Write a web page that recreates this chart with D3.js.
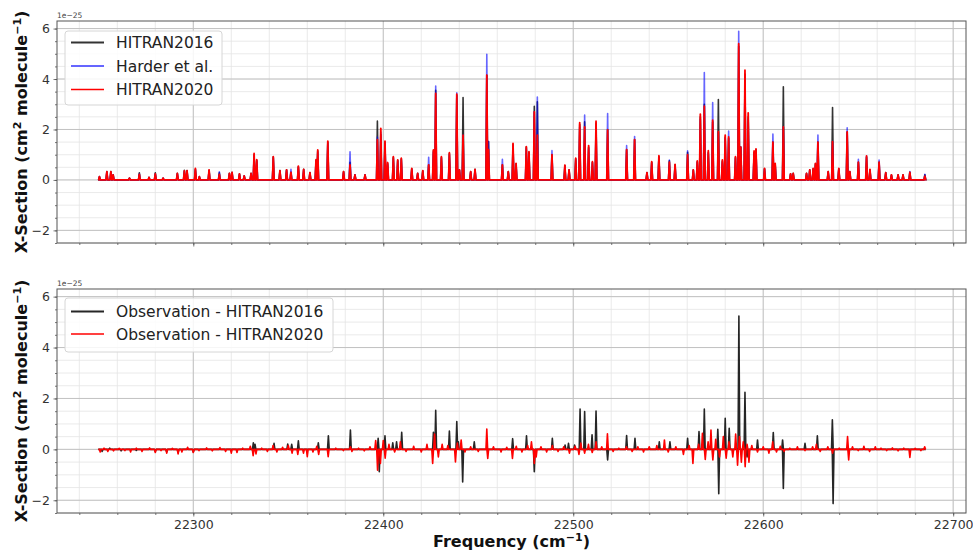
<!DOCTYPE html>
<html><head><meta charset="utf-8">
<script src="https://cdn.jsdelivr.net/npm/d3@7"></script>
<style>
body{margin:0;background:#fff}
svg{display:block;font-family:"DejaVu Sans",sans-serif}
</style>
</head><body><svg id="c" width="973" height="551"></svg>
<script>
// ---------------- data (cross-sections in units of 1e-25 cm^2 molecule^-1) ----------------
const freqRange = [22250, 22685.5];
const xTicks = [22300, 22400, 22500, 22600, 22700];
const yTicks = [-2, 0, 2, 4, 6];
const seriesTop = ["HITRAN2016", "Harder et al.", "HITRAN2020"];
const seriesBottom = ["Observation - HITRAN2016", "Observation - HITRAN2020"];

const peakFreq = [
22250.6,22254.5,22256.6,22257.8,22266.4,22271.6,22276.7,22280.0,22284.1,22291.6,
22295.3,22296.7,22301.1,22303.2,22308.3,22313.7,22319.0,22320.4,22324.3,22326.8,
22330.4,22332.0,22333.4,22342.1,22345.6,22349.1,22351.4,22355.3,22358.1,22361.4,
22364.6,22365.5,22370.8,22379.1,22382.5,22385.1,22390.4,22396.9,22398.7,22400.9,
22402.3,22405.3,22407.6,22409.5,22415.0,22418.1,22420.8,22423.9,22426.4,22427.6,
22430.6,22434.8,22438.7,22440.1,22442.0,22446.0,22448.3,22454.5,22455.4,22462.7,
22465.8,22468.3,22469.9,22475.3,22476.7,22479.5,22481.1,22488.8,22495.6,22497.8,
22501.3,22503.4,22506.0,22508.1,22510.1,22512.0,22518.1,22528.1,22532.3,22538.8,
22541.3,22545.1,22550.6,22553.6,22560.2,22563.2,22565.3,22566.9,22569.0,22571.1,
22573.4,22576.4,22578.5,22580.0,22581.8,22585.4,22587.1,22588.2,22590.4,22592.1,
22595.2,22596.2,22600.7,22605.1,22606.3,22610.6,22614.4,22615.8,22622.8,22624.5,
22626.3,22627.5,22628.8,22634.2,22636.5,22639.8,22644.2,22645.6,22650.1,22654.4,
22656.2,22661.0,22664.5,22667.5,22671.0,22673.6,22677.2,22685.1];

const hitran2016 = [
.13,.33,.33,.2,.07,.28,.1,.28,.07,.26,
.38,.37,.42,.13,.38,.28,.26,.30,.24,.16,
.26,1.0,.78,.92,.37,.40,.3,.52,.42,.29,
.78,1.15,1.5,.33,.7,.2,.2,2.33,1.8,1.5,
.65,.9,.78,.84,.44,.26,.36,.6,1.15,3.55,
.9,1.05,3.35,.4,3.27,.33,.42,4.15,1.52,.6,
.33,1.4,.64,1.3,1.1,2.92,3.1,1.0,.57,.4,
.84,2.2,2.3,1.3,.7,2.25,2.0,1.2,1.6,.29,
.7,.92,.76,.6,1.1,.4,.72,2.5,3.0,1.1,
2.3,3.19,.75,1.7,1.65,.9,5.3,1.3,4.2,2.5,
1.1,1.2,.44,1.5,.64,3.69,.24,.26,.26,.4,
.44,.64,1.5,.33,2.87,.44,1.9,.33,.7,.9,
.4,.7,.29,.2,.2,.2,.3,.2];

const harder = [
.13,.30,.30,.2,.07,.24,.1,.24,.07,.24,
.34,.35,.40,.13,.36,.32,.24,.28,.22,.16,
.24,.95,.75,.88,.35,.38,.42,.5,.4,.27,
.75,1.1,1.45,.3,1.12,.2,.2,1.7,1.9,1.45,
.6,.85,.75,.8,.42,.24,.34,.9,1.1,3.72,
.85,1.0,3.45,.38,1.78,.3,.4,4.98,1.52,.82,
.3,1.35,.6,1.25,1.05,2.7,3.29,1.16,.55,.38,
.8,2.1,2.57,1.25,.68,2.1,2.63,1.36,1.72,.27,
.68,.9,.79,.58,1.15,.38,.7,2.4,4.26,1.05,
3.07,1.9,.7,1.65,1.94,.85,5.89,1.3,4.0,2.4,
1.05,1.15,.42,1.82,.6,2.1,.22,.24,.24,.38,
.42,.6,1.78,.3,1.52,.42,2.07,.3,.82,.95,
.38,.79,.27,.18,.18,.18,.33,.22];

const hitran2020 = [
.13,.33,.33,.2,.07,.22,.1,.24,.07,.26,
.36,.37,.46,.13,.40,.22,.26,.30,.24,.16,
.26,1.05,.8,.92,.37,.4,.3,.55,.42,.29,
.8,1.19,1.54,.33,.6,.2,.2,1.6,2.04,1.54,
.69,.92,.79,.86,.46,.26,.37,.6,1.19,3.43,
.92,1.08,3.40,.4,1.78,.33,.42,4.15,1.2,.6,
.33,1.45,.66,1.32,1.12,2.7,1.78,1.0,.59,.4,
.86,2.27,2.1,1.36,.72,2.33,1.98,1.2,1.6,.29,
.72,.96,.7,.62,1.0,.4,.75,2.61,2.92,1.16,
2.37,1.91,.79,1.78,1.71,.92,5.4,1.3,4.35,2.66,
1.15,1.23,.46,1.5,.66,2.1,.24,.26,.26,.4,
.46,.66,1.5,.33,1.52,.46,1.9,.33,.7,.95,
.42,.7,.29,.2,.2,.2,.3,.15];

const residFreq2016 = [
22252,22256,22262,22270,22280,22286,22292,22300,22331.6,22332.5,
22342.5,22349.7,22351.8,22355.3,22365.8,22371.1,22382.7,22397.3,22397.9,22400.9,
22405,22407,22409.7,22426.4,22427.6,22434.8,22438.7,22439.5,22441.8,22447.9,
22468.1,22475.4,22479.5,22489,22495.7,22497.5,22500.7,22503.6,22506,22509.9,
22512,22518.1,22528.1,22532.5,22545.3,22550.9,22560.2,22566.2,22569,22576.1,
22576.6,22580,22582.1,22587.2,22590.4,22591.5,22597,22605.3,22610.2,22610.6,
22622,22628.5,22636.4,22636.8];
const resid2016 = [
-0.08,0.05,-0.06,-0.04,-0.08,-0.1,-0.12,-0.1,0.26,0.2,
0.24,0.21,0.2,0.34,0.26,0.53,0.76,0.43,-0.88,0.53,
0.26,0.3,0.67,0.67,1.53,0.72,1.09,0.3,-1.28,0.3,
0.42,0.53,-0.88,0.43,0.17,0.24,0.17,1.58,1.49,0.57,
1.51,-0.42,0.54,0.43,0.3,0.3,0.43,0.7,1.58,0.79,
-1.74,1.22,0.83,5.24,2.24,-0.3,0.37,0.66,0.37,-1.54,
0.24,0.53,1.16,-2.13];

const residFreq2020 = [
22251,22253,22255,22258,22261,22264,22267,22270,22273,22277,
22280,22283,22286,22289,22292,22294,22297,22300,22303,22307,
22310,22314,22317,22320,22323,22326,22330,22331.5,22333,22336,
22339,22342,22344,22347,22350,22352,22355,22358,22360,22363,
22365,22366,22371,22375,22379,22382.7,22383.5,22387,22390,22393,
22396,22397,22398.5,22400,22401,22403,22406,22409,22412,22416,
22420,22423,22426,22427,22429,22431,22434,22438,22439,22441,
22443,22446,22450,22454.5,22455,22458,22462,22465,22468,22470,
22473,22476,22478,22479.5,22480.5,22483,22486,22489,22492,22495,
22498,22501,22503,22504,22506,22508,22510,22512,22515,22518,
22521,22524,22528,22531,22534,22537,22540,22544,22548,22550,
22554,22558,22561,22563,22566,22568,22569.5,22571,22572.5,22573.5,
22575,22577,22579,22580.5,22582,22584,22585.5,22586.5,22587.5,22588.5,
22589.5,22590.5,22591.5,22592.5,22594,22597,22600,22603,22605,22607,
22609,22611,22614,22618,22622,22626,22628,22630,22634,22636.5,
22640,22644.4,22645,22647,22650,22653,22656,22659,22662,22665,
22668,22671,22674,22677.2,22680,22683,22685];
const resid2020 = [
-0.1,0.05,-0.08,-0.06,0.04,-0.05,-0.1,0.05,-0.08,0.06,
-0.12,-0.05,-0.15,0.04,-0.18,-0.1,0.08,-0.12,-0.05,0.06,
-0.06,0.07,-0.08,-0.15,-0.12,0.05,0.12,-0.25,-0.18,0.05,
-0.08,0.15,-0.1,0.08,0.15,-0.15,-0.2,-0.15,-0.29,-0.1,
0.12,-0.2,-0.29,0.05,-0.05,0.1,-0.08,0.05,-0.06,0.1,
0.35,-0.82,-0.55,0.35,-0.35,0.2,-0.1,0.3,-0.08,0.12,
-0.1,0.2,-0.55,0.6,-0.3,0.2,0.15,-0.49,0.25,0.37,
-0.1,0.1,-0.08,0.8,-0.36,0.1,-0.1,0.08,-0.36,0.12,
-0.1,0.15,0.3,-0.55,-0.3,0.1,-0.1,0.15,-0.08,0.1,
-0.15,0.12,-0.2,0.25,-0.15,0.2,-0.12,0.3,0.1,0.61,
-0.08,0.05,0.1,-0.08,0.1,-0.1,0.1,0.15,0.37,-0.1,
0.1,-0.2,0.15,-0.55,0.2,0.63,-0.4,0.3,0.76,-0.42,
0.4,-0.3,0.5,-0.35,0.3,-0.3,0.6,-0.62,0.5,-0.5,
0.3,-0.68,0.2,-0.5,0.15,-0.1,0.1,-0.15,0.3,-0.1,
0.12,-0.08,0.05,0.1,-0.05,0.1,0.2,-0.08,0.1,-0.15,
0.05,0.5,-0.42,0.1,-0.05,0.12,-0.08,0.1,0.05,-0.05,
0.06,-0.06,0.05,-0.32,0.04,-0.05,0.1];

// ---------------- drawing ----------------
const svg = d3.select("#c");
const L = 57, R = 966;
const x = d3.scaleLinear().domain([22228.25, 22706.75]).range([L, R]);
const yDomain = [-2.5, 6.3];
const xMinor = d3.range(22240, 22707, 20);
const yMinor = d3.range(-2.5, 6.31, 0.5);
const lineHalfWidth = 0.45; // drawn half-width of each spectral line profile, cm^-1

function spikes(freqs, vals) {
  const pts = [[freqRange[0], 0]];
  d3.zip(freqs, vals).sort((a, b) => a[0] - b[0]).forEach(([f, v]) => {
    pts.push([f - lineHalfWidth, 0], [f, v], [f + lineHalfWidth, 0]);
  });
  pts.push([freqRange[1], 0]);
  return pts;
}

function panel(top, bottom, idx) {
  const y = d3.scaleLinear().domain(yDomain).range([bottom, top]);
  const g = svg.append("g");
  g.append("g").selectAll("line").data(xMinor).join("line")
    .attr("x1", d => x(d)).attr("x2", d => x(d)).attr("y1", top).attr("y2", bottom)
    .attr("stroke", "#e4e4e4").attr("stroke-width", 0.8);
  g.append("g").selectAll("line").data(yMinor).join("line")
    .attr("y1", d => y(d)).attr("y2", d => y(d)).attr("x1", L).attr("x2", R)
    .attr("stroke", "#e4e4e4").attr("stroke-width", 0.8);
  g.append("g").selectAll("line").data(xTicks).join("line")
    .attr("x1", d => x(d)).attr("x2", d => x(d)).attr("y1", top).attr("y2", bottom)
    .attr("stroke", "#c2c2c2").attr("stroke-width", 1);
  g.append("g").selectAll("line").data(yTicks).join("line")
    .attr("y1", d => y(d)).attr("y2", d => y(d)).attr("x1", L).attr("x2", R)
    .attr("stroke", "#c2c2c2").attr("stroke-width", 1);

  const cid = "clip" + idx;
  svg.append("clipPath").attr("id", cid).append("rect")
    .attr("x", L).attr("y", top).attr("width", R - L).attr("height", bottom - top);
  const plot = g.append("g").attr("clip-path", `url(#${cid})`);
  const line = d3.line().x(d => x(d[0])).y(d => y(d[1]));
  return { g, plot, line, y };
}

function axes(p, top, bottom, showXLabels) {
  const { g, y } = p;
  const fmt = d => (d < 0 ? "\u2212" + Math.abs(d) : String(d));
  g.append("rect").attr("x", L).attr("y", top).attr("width", R - L).attr("height", bottom - top)
    .attr("fill", "none").attr("stroke", "#555").attr("stroke-width", 1);
  const ax1 = g.append("g").attr("transform", `translate(${L},0)`)
    .call(d3.axisLeft(y).tickValues(yMinor).tickSize(2).tickFormat(""));
  const ax2 = g.append("g").attr("transform", `translate(${L},0)`)
    .call(d3.axisLeft(y).tickValues(yTicks).tickSize(3.5).tickPadding(3.5).tickFormat(fmt));
  const ax3 = g.append("g").attr("transform", `translate(0,${bottom})`)
    .call(d3.axisBottom(x).tickValues(xMinor).tickSize(2).tickFormat(""));
  const ax4 = g.append("g").attr("transform", `translate(0,${bottom})`)
    .call(d3.axisBottom(x).tickValues(xTicks).tickSize(3.5).tickPadding(4)
      .tickFormat(showXLabels ? d => String(d) : ""));
  [ax1, ax2, ax3, ax4].forEach(a => {
    a.select(".domain").remove();
    a.selectAll(".tick line").attr("stroke", "#555").attr("stroke-width", 0.8);
    a.selectAll("text").attr("fill", "#333").attr("font-size", 12.5)
      .attr("font-family", "DejaVu Sans, sans-serif");
  });
  g.append("text").attr("x", L).attr("y", top - 3).attr("font-size", 7.5).attr("fill", "#444")
    .text("1e\u221225");
  const yl = g.append("text")
    .attr("transform", `translate(27,${(top + bottom) / 2}) rotate(-90)`)
    .attr("text-anchor", "middle").attr("font-size", 16).attr("font-weight", "bold").attr("fill", "#111");
  yl.append("tspan").text("X-Section (cm");
  yl.append("tspan").attr("font-size", 11).attr("dy", -6).text("2");
  yl.append("tspan").attr("dy", 6).text(" molecule");
  yl.append("tspan").attr("font-size", 11).attr("dy", -6).text("\u22121");
  yl.append("tspan").attr("dy", 6).text(")");
}

function legend(items, x0, y0, w, h, rowY) {
  const lg = svg.append("g");
  lg.append("rect").attr("x", x0).attr("y", y0).attr("width", w).attr("height", h).attr("rx", 3)
    .attr("fill", "#fff").attr("fill-opacity", 0.85).attr("stroke", "#d6d6d6").attr("stroke-width", 1);
  items.forEach((it, i) => {
    const yy = rowY[i];
    lg.append("line").attr("x1", x0 + 6).attr("x2", x0 + 39).attr("y1", yy).attr("y2", yy)
      .attr("stroke", it.color).attr("stroke-width", it.lw).attr("stroke-opacity", it.op);
    lg.append("text").attr("x", x0 + 51).attr("y", yy + 5.6).attr("font-size", 15.5)
      .attr("fill", "#222").text(it.name);
  });
}

// top panel
const T = panel(21, 243, 0);
const styleTop = [
  { color: "#000000", lw: 1.6, op: 0.8 },
  { color: "#0000ff", lw: 1.6, op: 0.6 },
  { color: "#ff0000", lw: 1.8, op: 1 }
];
[hitran2016, harder, hitran2020].forEach((vals, i) => {
  T.plot.append("path").datum(spikes(peakFreq, vals)).attr("d", T.line)
    .attr("fill", "none").attr("stroke", styleTop[i].color).attr("stroke-width", styleTop[i].lw)
    .attr("stroke-opacity", styleTop[i].op).attr("stroke-linejoin", "round");
});
axes(T, 21, 243, false);

// bottom panel
const B = panel(289, 513, 1);
const styleBottom = [
  { color: "#000000", lw: 1.6, op: 0.85 },
  { color: "#ff0000", lw: 1.6, op: 1 }
];
[[residFreq2016, resid2016], [residFreq2020, resid2020]].forEach(([f, v], i) => {
  B.plot.append("path").datum(spikes(f, v)).attr("d", B.line)
    .attr("fill", "none").attr("stroke", styleBottom[i].color).attr("stroke-width", styleBottom[i].lw)
    .attr("stroke-opacity", styleBottom[i].op).attr("stroke-linejoin", "round");
});
axes(B, 289, 513, true);

// x label
const xl = svg.append("text").attr("x", (L + R) / 2).attr("y", 547).attr("text-anchor", "middle")
  .attr("font-size", 16).attr("font-weight", "bold").attr("fill", "#111");
xl.append("tspan").text("Frequency (cm");
xl.append("tspan").attr("font-size", 11).attr("dy", -6).text("\u22121");
xl.append("tspan").attr("dy", 6).text(")");

legend(seriesTop.map((n, i) => ({ name: n, color: styleTop[i].color, lw: i === 2 ? 1.3 : 2, op: styleTop[i].op })),
  65, 31, 157, 74, [42.5, 66, 89.5]);
legend(seriesBottom.map((n, i) => ({ name: n, color: styleBottom[i].color, lw: i === 1 ? 1.3 : 2, op: styleBottom[i].op })),
  65, 298, 268, 54, [311.5, 334]);
</script>
</body></html>
